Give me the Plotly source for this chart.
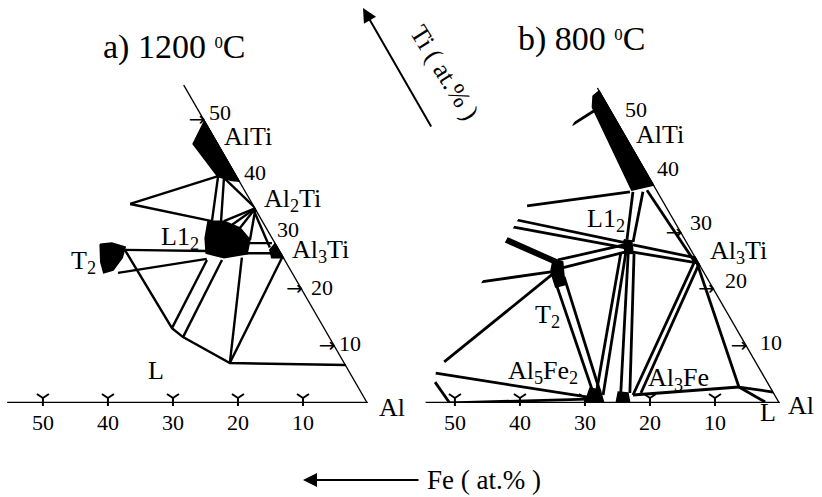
import plotly.graph_objects as go

W, H = 822, 497

# ---------------- data: compositions in at.% as (Fe, Ti); Al = balance ----------------
FE_TICKS = [50, 40, 30, 20, 10]
TI_TICKS = [50, 40, 30, 20, 10]
A_TI_ARROWS = [50, 20, 10]
B_TI_ARROWS = [30, 20, 10]

# a) 1200 C isothermal section
A_FE_AXIS = [(0, 0), (55.5, 0)]
A_TI_AXIS = [(0, 0), (0, 56.6)]
A_ALTI = [(0, 50.2), (3.9, 46.0), (3.0, 40.2), (1.2, 39.5), (0, 39.4)]
A_L12 = [(8.45, 32.3), (6.0, 32.3), (4.15, 31.1), (3.65, 29.0), (5.35, 26.5),
         (9.25, 25.8), (11.6, 26.6), (10.4, 29.3)]
A_AL3TI = [(0, 28.4), (1.5, 27.2), (1.9, 25.8), (0, 25.8)]
A_T2 = [(27.1, 28.2), (25.2, 28.4), (23.5, 27.7), (24.9, 25.8), (27.4, 23.6),
        (29.1, 23.1), (28.6, 25.0)]
A_LIQUID = [(23.8, 27.2), (23.5, 13.3), (22.6, 11.7), (17.7, 7.1), (0, 6.75)]
A_TIES = [
    [(18.9, 35.35), (2.9, 40.3)],
    [(18.9, 35.35), (7.85, 32.3)],
    [(2.9, 40.3), (7.85, 32.3)],
    [(2.15, 40.0), (6.45, 32.3)],
    [(2.15, 40.0), (0, 34.6)],
    [(0, 34.6), (6.0, 32.3)],
    [(0, 34.6), (5.0, 31.7)],
    [(0, 34.6), (4.15, 31.1)],
    [(0, 34.6), (3.65, 29.0)],
    [(0.5, 34.0), (1.3, 27.6)],
    [(4.4, 28.4), (0.57, 28.4)],
    [(5.9, 26.6), (0, 26.6)],
    [(23.8, 27.2), (11.3, 27.0)],
    [(26.9, 23.1), (12.0, 25.6)],
    [(12.07, 25.4), (23.5, 13.3)],
    [(9.76, 25.4), (22.6, 11.7)],
    [(6.5, 25.8), (17.7, 7.1)],
    [(0.33, 25.8), (17.7, 7.1)],
]

# b) 800 C isothermal section
B_FE_AXIS = [(0, 0), (54.5, 0)]
B_TI_AXIS = [(0, 0), (0, 56.0)]
B_ALTI = [(0, 55.5), (1.5, 54.5), (2.6, 52.5), (3.9, 37.8), (0, 38.7)]
B_T2 = [(22.2, 25.4), (20.9, 25.05), (22.6, 21.0), (24.2, 20.6), (23.6, 23.3)]
B_L12 = [(9.5, 29.0), (8.4, 28.8), (9.3, 26.6), (10.6, 26.5)]
B_AL5FE2 = [(30.0, 0), (27.1, 0), (26.5, 2.3), (27.9, 2.66)]
B_AL3FE = [(25.2, 0), (23.1, 0), (22.5, 1.78), (23.9, 1.95)]
B_AL3TI = [(0, 26.0), (0.8, 25.0), (0, 24.4)]
B_T2_BAND = [(27.65, 29.0), (21.7, 24.9)]
B_TIES = [
    [(2.46, 52.0), (7.3, 49.4)],
    [(4.33, 37.5), (21.4, 35.0)],
    [(3.87, 37.5), (9.04, 29.0)],
    [(2.33, 37.5), (8.3, 28.6)],
    [(1.56, 37.8), (0.58, 25.05)],
    [(24.2, 32.5), (9.3, 28.4)],
    [(25.5, 31.3), (9.8, 27.5)],
    [(8.56, 28.1), (0, 25.76)],
    [(9.2, 26.8), (0.3, 24.9)],
    [(35.25, 21.5), (23.6, 23.3)],
    [(21.45, 25.4), (9.95, 28.1)],
    [(21.5, 24.0), (10.45, 26.8)],
    [(48.0, 7.3), (23.2, 23.1)],
    [(23.6, 22.4), (27.8, 1.95)],
    [(22.0, 22.4), (26.7, 1.95)],
    [(11.06, 26.8), (27.6, 1.42)],
    [(10.3, 26.8), (26.5, 1.42)],
    [(10.1, 26.5), (23.6, 1.78)],
    [(9.2, 26.5), (22.2, 1.78)],
    [(0.78, 24.9), (21.9, 1.42)],
    [(0.1, 24.7), (20.5, 1.78)],
    [(0.3, 25.0), (4.9, 2.84)],
    [(21.9, 1.42), (4.9, 2.84)],
    [(4.9, 2.84), (0.1, 1.95)],
    [(4.9, 2.84), (2.2, 0.18)],
    [(50.3, 5.3), (29.2, 1.07)],
    [(51.2, 3.7), (50.8, 0)],
    [(50.8, 0), (29.3, 0.7)],
]

# phase labels (text, x px, y px)
A_LABELS = [("AlTi", 248, 137), ("Al<sub>2</sub>Ti", 292, 200), ("Al<sub>3</sub>Ti", 320, 251),
            ("L1<sub>2</sub>", 180, 238), ("T<sub>2</sub>", 83, 262), ("L", 156, 370),
            ("Al", 392, 407)]
B_LABELS = [("AlTi", 660, 134), ("L1<sub>2</sub>", 606, 220), ("Al<sub>3</sub>Ti", 738, 252),
            ("T<sub>2</sub>", 547, 316), ("Al<sub>5</sub>Fe<sub>2</sub>", 543, 372),
            ("Al<sub>3</sub>Fe", 678, 379), ("Al", 801, 405), ("L", 768, 412)]

# Ti tick labels set beside the Al-Ti edge (x px, y px), in TI_TICKS order
A_TI_LABEL_POS = [(220, 112), (255, 172), (288, 230), (322, 287), (350, 343)]
B_TI_LABEL_POS = [(636, 109), (668, 168), (701, 222), (736, 280), (771, 342)]

# ---------------- drawing ----------------
SERIF = "Liberation Serif"
AL_MIN = 43.4   # shown part of each section: Al >= 43.4 at.%
CLEAR = "rgba(0,0,0,0)"


def comp(points):
    fe = [p[0] for p in points]
    ti = [p[1] for p in points]
    al = [100 - f - t for f, t in points]
    return ti, fe, al


def lines_trace(segments, sub, width):
    a, b, c = [], [], []
    for seg in segments:
        ti, fe, al = comp(seg)
        a += ti + [None]
        b += fe + [None]
        c += al + [None]
    return go.Scatterternary(a=a, b=b, c=c, subplot=sub, mode="lines",
                             line=dict(color="black", width=width),
                             hoverinfo="skip", showlegend=False)


def region_trace(points, sub):
    ti, fe, al = comp(points + [points[0]])
    return go.Scatterternary(a=ti, b=fe, c=al, subplot=sub, mode="lines",
                             fill="toself", fillcolor="black",
                             line=dict(color="black", width=1.5),
                             hoverinfo="skip", showlegend=False)


def text_trace(points, texts, sub, pos, size, pad=0, family=SERIF):
    # an invisible marker of size `pad` pushes the text away from its point
    ti, fe, al = comp(points)
    return go.Scatterternary(a=ti, b=fe, c=al, subplot=sub,
                             mode="markers+text" if pad else "text",
                             marker=dict(size=pad, color=CLEAR),
                             text=texts, textposition=pos, cliponaxis=False,
                             textfont=dict(family=family, size=size, color="black"),
                             hoverinfo="skip", showlegend=False)


def v_ticks(points, sub):
    ti, fe, al = comp(points)
    try:
        return go.Scatterternary(a=ti, b=fe, c=al, subplot=sub, mode="markers",
                                 marker=dict(symbol="y-up", angle=180, standoff=5, size=10,
                                             color="black",
                                             line=dict(color="black", width=2)),
                                 cliponaxis=False, hoverinfo="skip", showlegend=False)
    except ValueError:
        return text_trace(points, ["v"] * len(points), sub, "top center", 16)


fig = go.Figure()

panels = [
    dict(sub="ternary", axes=[A_FE_AXIS, A_TI_AXIS], ties=A_TIES, extra=[A_LIQUID],
         regions=[A_ALTI, A_L12, A_AL3TI, A_T2], arrows=A_TI_ARROWS, width=2.4),
    dict(sub="ternary2", axes=[B_FE_AXIS, B_TI_AXIS], ties=B_TIES, extra=[],
         regions=[B_ALTI, B_T2, B_L12, B_AL5FE2, B_AL3FE, B_AL3TI], arrows=B_TI_ARROWS,
         width=2.8),
]

for p in panels:
    s = p["sub"]
    fig.add_trace(lines_trace(p["axes"], s, 2.6))
    fig.add_trace(lines_trace(p["ties"] + p["extra"], s, p["width"]))
    for r in p["regions"]:
        fig.add_trace(region_trace(r, s))
    # tick marks
    fig.add_trace(v_ticks([(f, 0) for f in FE_TICKS], s))
    fig.add_trace(text_trace([(0, t) for t in p["arrows"]], ["\u2192"] * len(p["arrows"]), s,
                             "middle left", 20, family="DejaVu Sans"))
    # Fe tick labels under the Al-Fe edge
    fig.add_trace(text_trace([(f, 0) for f in FE_TICKS], [str(f) for f in FE_TICKS], s,
                             "bottom center", 22, pad=16))

fig.add_trace(lines_trace([B_T2_BAND], "ternary2", 6))


def hidden_axis(mn):
    return dict(min=mn, showline=False, showgrid=False, showticklabels=False,
                ticks="", title=dict(text=""))


def domain(x_left, x_right, y_bottom):
    side = x_right - x_left
    height = side * 3 ** 0.5 / 2
    return dict(x=[x_left / W, x_right / W],
                y=[1 - y_bottom / H, 1 - (y_bottom - height) / H])


def tern(dom):
    return dict(domain=dom, sum=100, bgcolor="white",
                aaxis=hidden_axis(0), baxis=hidden_axis(0), caxis=hidden_axis(AL_MIN))


annotations = []


def note(text, x, y, size, angle=0, anchor="center"):
    annotations.append(dict(text=text, x=x / W, y=1 - y / H, xref="paper", yref="paper",
                            showarrow=False, xanchor=anchor, yanchor="middle",
                            textangle=angle,
                            font=dict(family=SERIF, size=size, color="black")))


for t, x, y in A_LABELS + B_LABELS:
    note(t, x, y, 26)

for positions in (A_TI_LABEL_POS, B_TI_LABEL_POS):
    for t, (x, y) in zip(TI_TICKS, positions):
        note(str(t), x, y, 22)

DEG = "<span style='font-size:24px'><sup>0</sup></span>"
note("a) 1200 " + DEG + "C", 174, 47, 34)
note("b) 800 " + DEG + "C", 581, 39, 34)
note("Ti ( at.% )", 444, 73, 26, angle=58)
note("Fe ( at.% )", 425, 480, 27, anchor="left")

# composition direction arrows
annotations.append(dict(x=363 / W, y=1 - 8 / H, xref="paper", yref="paper",
                        ax=69, ay=120, text="", showarrow=True, arrowhead=2,
                        arrowsize=1.4, arrowwidth=2, arrowcolor="black"))
annotations.append(dict(x=303 / W, y=1 - 480 / H, xref="paper", yref="paper",
                        ax=117, ay=0, text="", showarrow=True, arrowhead=2,
                        arrowsize=1.4, arrowwidth=2, arrowcolor="black"))

fig.update_layout(
    width=W, height=H,
    margin=dict(l=0, r=0, t=0, b=0),
    paper_bgcolor="white",
    plot_bgcolor="white",
    ternary=tern(domain(0, 368, 403)),
    ternary2=tern(domain(412, 780, 403)),
    annotations=annotations,
    showlegend=False,
)

fig.write_html("out.html")
